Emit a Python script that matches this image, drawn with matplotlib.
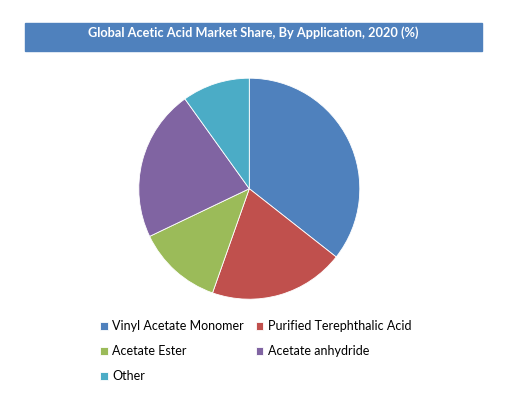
import matplotlib.pyplot as plt
from matplotlib.patches import Rectangle

labels = ['Vinyl Acetate Monomer', 'Purified Terephthalic Acid', 'Acetate Ester',
          'Acetate anhydride', 'Other']
shares = [35.6, 19.8, 12.5, 22.2, 9.9]
colors = ['#4F81BD', '#C0504D', '#9BBB59', '#8064A2', '#4BACC6']
title = 'Global Acetic Acid Market Share, By Application, 2020 (%)'

W, H = 509, 404
fig = plt.figure(figsize=(W / 100, H / 100), dpi=100)

# title bar
fig.patches.append(Rectangle((25 / W, 1 - 51 / H), 457 / W, 28 / H,
                             transform=fig.transFigure, color='#4F81BD', zorder=0))
fig.text(253 / W, 1 - 33 / H, title, ha='center', va='center', color='white',
         fontsize=9.2, fontweight='bold', family='Lato')

# pie
cx, cy, r = 249.3, 188.7, 110.5
ax = fig.add_axes([(cx - r) / W, (H - cy - r) / H, 2 * r / W, 2 * r / H])
wedges, _ = ax.pie(shares, colors=colors, startangle=90, counterclock=False,
                   radius=1, wedgeprops=dict(edgecolor='white', linewidth=0.6))
ax.set_xlim(-1, 1)
ax.set_ylim(-1, 1)
ax.axis('off')

order = [0, 2, 4, 1, 3]
fig.legend([wedges[i] for i in order], [labels[i] for i in order],
           ncol=2, loc='upper left', bbox_to_anchor=(100 / W, 1 - 320 / H),
           frameon=False, prop={'family': 'Lato', 'size': 9},
           handlelength=0.6, handleheight=0.6, handletextpad=0.4,
           labelspacing=1.05, columnspacing=0.9, borderpad=0, borderaxespad=0)

fig.savefig('out.png', dpi=100, facecolor='white')
